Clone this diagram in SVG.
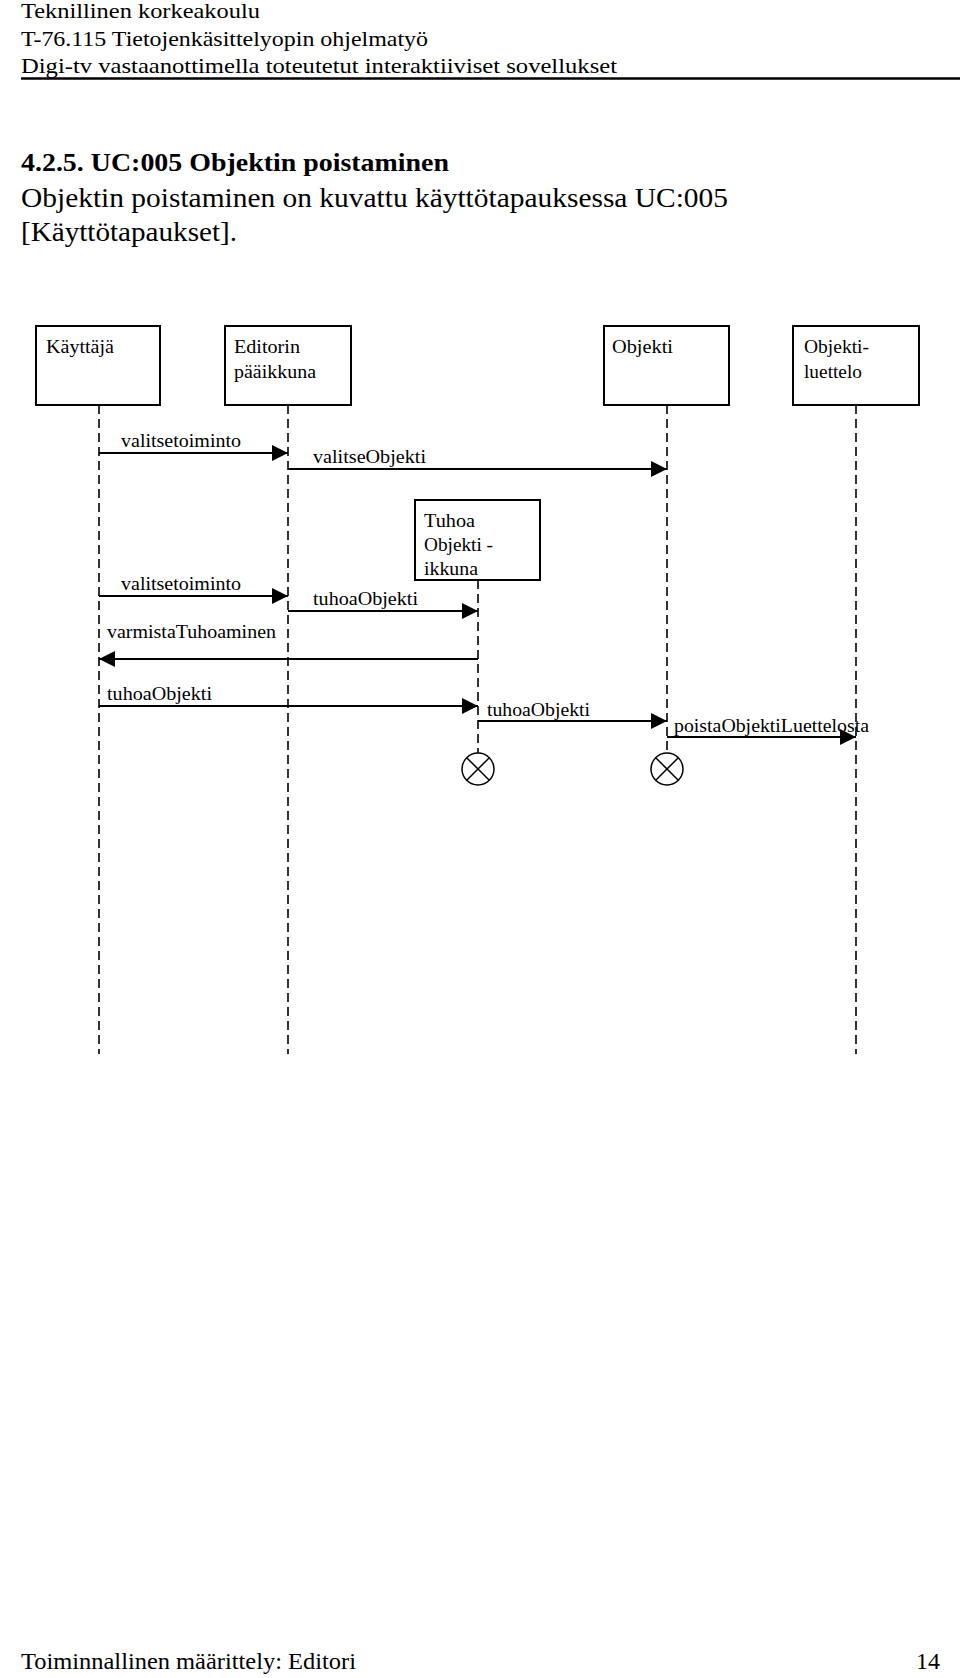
<svg xmlns="http://www.w3.org/2000/svg" width="960" height="1678" viewBox="0 0 960 1678">
<style>
.hdr{font-family:"Liberation Serif","DejaVu Serif",serif;font-size:22px;fill:#000}
.body{font-family:"Liberation Serif","DejaVu Serif",serif;font-size:27px;fill:#000}
.h{font-family:"Liberation Serif","DejaVu Serif",serif;font-size:26px;font-weight:bold;fill:#000}
.lbl{font-family:"Liberation Serif","DejaVu Serif",serif;font-size:18.5px;fill:#000}
.box{fill:#fff;stroke:#000;stroke-width:2}
.life{stroke:#000;stroke-width:1.6;stroke-dasharray:9 5;fill:none}
.msg{stroke:#000;stroke-width:2;fill:none;marker-end:url(#ah)}
.x{stroke:#000;stroke-width:1.5;fill:none}
</style>
<defs>
<marker id="ah" markerUnits="userSpaceOnUse" markerWidth="17" markerHeight="17" refX="16" refY="8.5" orient="auto">
<path d="M0,0.5 L16,8.5 L0,16.5 z" fill="#000"/>
</marker>
</defs>
<rect width="960" height="1678" fill="#fff"/>
<g id="page-header">
<text class="hdr" x="21" y="18" textLength="239" lengthAdjust="spacingAndGlyphs">Teknillinen korkeakoulu</text>
<text class="hdr" x="21" y="46" textLength="407" lengthAdjust="spacingAndGlyphs">T-76.115 Tietojenkäsittelyopin ohjelmatyö</text>
<text class="hdr" x="21" y="73" textLength="596" lengthAdjust="spacingAndGlyphs">Digi-tv vastaanottimella toteutetut interaktiiviset sovellukset</text>
<line x1="21" y1="78.5" x2="960" y2="78.5" stroke="#000" stroke-width="2.5"/>
</g>
<g id="section-text">
<text class="h" x="21" y="171" textLength="428" lengthAdjust="spacingAndGlyphs">4.2.5. UC:005 Objektin poistaminen</text>
<text class="body" x="21" y="207" textLength="707" lengthAdjust="spacingAndGlyphs">Objektin poistaminen on kuvattu käyttötapauksessa UC:005</text>
<text class="body" x="21" y="241" textLength="216" lengthAdjust="spacingAndGlyphs">[Käyttötapaukset].</text>
</g>
<g id="lifelines">
<line class="life" x1="99" y1="405" x2="99" y2="1054"/>
<line class="life" x1="288" y1="405" x2="288" y2="1054"/>
<line class="life" x1="667" y1="405" x2="667" y2="753"/>
<line class="life" x1="856" y1="405" x2="856" y2="1054"/>
<line class="life" x1="478" y1="580" x2="478" y2="753"/>
</g>
<g id="node-kayttaja">
<rect class="box" x="36" y="326" width="124" height="79"/>
<text class="lbl" x="46" y="353" textLength="68" lengthAdjust="spacingAndGlyphs">Käyttäjä</text>
</g>
<g id="node-editorin-paaikkuna">
<rect class="box" x="225" y="326" width="126" height="79"/>
<text class="lbl" x="234" y="353" textLength="66" lengthAdjust="spacingAndGlyphs">Editorin</text>
<text class="lbl" x="234" y="378" textLength="82" lengthAdjust="spacingAndGlyphs">pääikkuna</text>
</g>
<g id="node-objekti">
<rect class="box" x="604" y="326" width="125" height="79"/>
<text class="lbl" x="612" y="353" textLength="61" lengthAdjust="spacingAndGlyphs">Objekti</text>
</g>
<g id="node-objektiluettelo">
<rect class="box" x="793" y="326" width="126" height="79"/>
<text class="lbl" x="804" y="353" textLength="65" lengthAdjust="spacingAndGlyphs">Objekti-</text>
<text class="lbl" x="804" y="378" textLength="58" lengthAdjust="spacingAndGlyphs">luettelo</text>
</g>
<g id="node-tuhoa-objekti-ikkuna">
<rect class="box" x="415" y="500" width="125" height="80"/>
<text class="lbl" x="424" y="527" textLength="51" lengthAdjust="spacingAndGlyphs">Tuhoa</text>
<text class="lbl" x="424" y="551" textLength="69" lengthAdjust="spacingAndGlyphs">Objekti -</text>
<text class="lbl" x="424" y="575" textLength="54" lengthAdjust="spacingAndGlyphs">ikkuna</text>
</g>
<g id="connectors">
<line class="msg" x1="99" y1="453" x2="288" y2="453"/>
<text class="lbl" x="121" y="447" textLength="120" lengthAdjust="spacingAndGlyphs">valitsetoiminto</text>
<line class="msg" x1="288" y1="469" x2="667" y2="469"/>
<text class="lbl" x="313" y="463" textLength="113" lengthAdjust="spacingAndGlyphs">valitseObjekti</text>
<line class="msg" x1="99" y1="596" x2="288" y2="596"/>
<text class="lbl" x="121" y="590" textLength="120" lengthAdjust="spacingAndGlyphs">valitsetoiminto</text>
<line class="msg" x1="288" y1="611" x2="478" y2="611"/>
<text class="lbl" x="313" y="605" textLength="105" lengthAdjust="spacingAndGlyphs">tuhoaObjekti</text>
<line class="msg" x1="478" y1="659" x2="99" y2="659"/>
<text class="lbl" x="107" y="638" textLength="169" lengthAdjust="spacingAndGlyphs">varmistaTuhoaminen</text>
<line class="msg" x1="99" y1="706" x2="478" y2="706"/>
<text class="lbl" x="107" y="700" textLength="105" lengthAdjust="spacingAndGlyphs">tuhoaObjekti</text>
<line class="msg" x1="478" y1="721" x2="667" y2="721"/>
<text class="lbl" x="487" y="716" textLength="103" lengthAdjust="spacingAndGlyphs">tuhoaObjekti</text>
<line class="msg" x1="667" y1="737" x2="856" y2="737"/>
<text class="lbl" x="674" y="732" textLength="195" lengthAdjust="spacingAndGlyphs">poistaObjektiLuettelosta</text>
</g>
<g id="destroy-tuhoa">
<circle class="x" cx="478" cy="769" r="16"/>
<line class="x" x1="466.7" y1="757.7" x2="489.3" y2="780.3"/>
<line class="x" x1="489.3" y1="757.7" x2="466.7" y2="780.3"/>
</g>
<g id="destroy-objekti">
<circle class="x" cx="667" cy="769" r="16"/>
<line class="x" x1="655.7" y1="757.7" x2="678.3" y2="780.3"/>
<line class="x" x1="678.3" y1="757.7" x2="655.7" y2="780.3"/>
</g>
<g id="page-footer">
<text class="body" x="21" y="1669" style="font-size:24px" textLength="335" lengthAdjust="spacingAndGlyphs">Toiminnallinen määrittely: Editori</text>
<text class="body" x="940" y="1669" style="font-size:24px" text-anchor="end">14</text>
</g>
</svg>
